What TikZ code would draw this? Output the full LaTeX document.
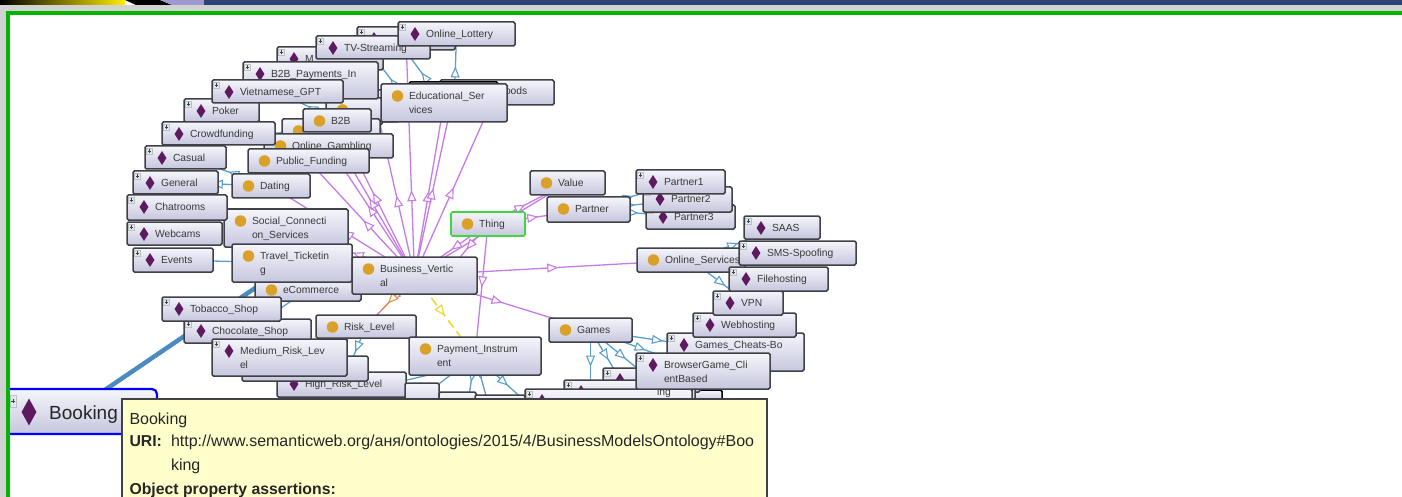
\documentclass[tikz,border=0pt]{standalone}
\usepackage{fontspec}
\setmainfont{Liberation Sans}
\usetikzlibrary{backgrounds,decorations.markings,arrows.meta,shapes.geometric}
\definecolor{edgepurple}{HTML}{C77BE6}
\definecolor{edgeblue}{HTML}{5B9FCE}
\definecolor{edgethick}{HTML}{4A8CBF}
\definecolor{edgeorange}{HTML}{E0963A}
\definecolor{edgeyellow}{HTML}{F0D428}
\definecolor{boxline}{HTML}{404048}
\definecolor{boxtop}{HTML}{F5F5FB}
\definecolor{boxbottom}{HTML}{C6C6DE}
\definecolor{clsdot}{HTML}{D9A128}
\definecolor{inddia}{HTML}{5E1A5E}
\definecolor{txt}{HTML}{3A3A3A}
\definecolor{tipfill}{HTML}{FFFFCC}
\definecolor{pagegreen}{HTML}{00B400}
\definecolor{navy}{HTML}{2D4373}
\definecolor{lav}{HTML}{9E9AD0}
\definecolor{plusfill}{HTML}{DCE8F4}
\tikzset{
  gbox/.style={draw=boxline,line width=1.5pt,rounded corners=1.5pt,top color=boxtop,bottom color=boxbottom,inner sep=0pt,outer sep=0pt},
  gtext/.style={inner sep=0pt,outer sep=0pt,anchor=north west,align=left,text=txt,font=\fontsize{10.3}{14}\selectfont},
  dot/.style={circle,fill=clsdot,minimum size=11.5pt,inner sep=0pt},
  dia/.style={diamond,fill=inddia,minimum width=9pt,minimum height=14pt,aspect=0.65,inner sep=0pt},
  tri/.style={postaction={decorate},decoration={markings,mark=at position #1 with {\arrow{Triangle[fill=white,length=11pt,width=9pt,line width=1.1pt]}}}},
  pe/.style={draw=edgepurple,line width=1.3pt},
  be/.style={draw=edgeblue,line width=1.3pt},
  oe/.style={draw=edgeorange,line width=1.3pt,dash pattern=on 8pt off 5pt},
  ye/.style={draw=edgeyellow,line width=1.5pt,dash pattern=on 9pt off 5pt},
  tiptext/.style={inner sep=0pt,outer sep=0pt,anchor=base west,text=black!85,font=\fontsize{16}{18}\selectfont},
  tipbold/.style={tiptext,font=\fontsize{15.8}{18}\selectfont\bfseries},
}
% [box style] name x0 y0 x1 y1 text
\newcommand\basebox[7][]{%
  \pgfmathsetmacro\bw{#5-#3}\pgfmathsetmacro\bh{#6-#4}%
  \pgfmathsetmacro\bx{(#3+#5)/2}\pgfmathsetmacro\by{(#4+#6)/2}%
  \node[gbox,minimum width=\bw pt,minimum height=\bh pt,#1] (#2) at (\bx,\by) {};%
  \node[gtext] (#2-t) at (#3+28,#4+8) {#7};%
}
\newcommand\cls[7][]{%
  \basebox[#1]{#2}{#3}{#4}{#5}{#6}{#7}%
  \node[dot] (#2-i) at (#3+16.5,#4+12) {};%
}
\newcommand\ind[7][]{%
  \basebox[#1]{#2}{#3}{#4}{#5}{#6}{#7}%
  \node[dia] (#2-i) at (#3+17,#4+12) {};%
  \fill[plusfill,draw=black!25,line width=.3pt] (#3+1.5,#4+2) rectangle (#3+7.5,#4+8);%
  \draw[black!75,line width=.5pt] (#3+2.8,#4+5) -- (#3+6.2,#4+5) (#3+4.5,#4+3.3) -- (#3+4.5,#4+6.7);%
}
\begin{document}
\begin{tikzpicture}[x=1pt,y=-1pt]
\useasboundingbox (0,0) rectangle (1402,497);
\clip (0,0) rectangle (1402,497);

% --- lower layer of boxes
\ind{topA}{357}{27}{455}{50}{}
\ind{mbox}{277}{47}{383}{70}{M}
\ind{tv}{316}{36}{430}{59}{TV-Streaming}
\node[gbox,minimum width=114pt,minimum height=25pt] (oods) at (497,92.5) {};
\node[gtext] (oods-t) at (505,87.5) {oods};
\node[gbox,draw=black,minimum width=89pt,minimum height=24pt] (blackbox) at (453.5,94) {};
\ind{lottery}{398}{22}{515}{46}{Online\_Lottery}
\cls{hA}{353}{90}{399}{122}{}
\cls{hB}{326}{98}{382}{125}{}
\ind{payin}{243}{62}{378}{99}{B2B\_Payments\_In}
\cls{edu}{381}{84}{507}{122}{Educational\_Ser\\vices}
\ind{poker}{184}{99}{259}{122}{Poker}
\ind{viet}{212}{80}{343}{103}{Vietnamese\_GPT}
\cls{hC}{282}{119}{380}{146}{}
\cls{b2b}{303}{109}{371}{132}{B2B}
\cls{gamb}{264}{134}{393}{158}{Online\_Gambling}
\ind{crowd}{162}{122}{275}{145}{Crowdfunding}
\cls{public}{248}{149}{369}{173}{Public\_Funding}
\ind{casual}{145}{146}{226}{169}{Casual}
\ind{general}{133}{171}{218}{194}{General}
\cls{dating}{232}{174}{310}{198}{Dating}
\cls{social}{224}{209}{348}{247}{Social\_Connecti\\on\_Services}
\ind{chat}{127}{195}{227}{220}{Chatrooms}
\ind{webcams}{127}{222}{222}{245}{Webcams}
\ind{events}{133}{248}{213}{272}{Events}
\cls{ecom}{255}{278}{361}{301}{eCommerce}
\cls{travel}{232}{244}{352}{282}{Travel\_Ticketin\\g}
\cls{bv}{352}{257}{477}{294}{Business\_Vertic\\al}
\cls[draw={rgb,255:red,64;green,214;blue,64},line width=1.6pt]{thing}{451}{212}{525}{236}{Thing}
\cls{value}{530}{171}{605}{195}{Value}
\cls{partner}{547}{197}{630}{222}{Partner}
\ind{pthree}{646}{205}{735}{229}{Partner3}
\ind{ptwo}{643}{187}{732}{212}{Partner2}
\ind{pone}{636}{170}{725}{194}{Partner1}
\ind{chocolate}{184}{319}{311}{343}{Chocolate\_Shop}
\ind{tobacco}{162}{297}{281}{321}{Tobacco\_Shop}
\ind{high}{277}{372}{406}{397}{High\_Risk\_Level}
\ind{midbox}{242}{356}{368}{381}{}
\ind{medium}{212}{339}{347}{376}{Medium\_Risk\_Lev\\el}
\cls{risk}{316}{315}{416}{338}{Risk\_Level}
\node[gbox,minimum width=34pt,minimum height=28pt] (pA) at (422,397) {};
\node[gbox,minimum width=37pt,minimum height=28pt] (pB) at (457.5,406) {};
\node[gbox,minimum width=50pt,minimum height=30pt] (pC) at (500,410) {};
\cls{payment}{409}{337}{541}{375}{Payment\_Instrum\\ent}
\cls{games}{549}{318}{632}{342}{Games}
\cls{online}{637}{248}{745}{272}{Online\_Services}
\ind{cheats}{667}{333}{804}{371}{Games\_Cheats-Bo}
\ind{webhost}{693}{313}{796}{337}{Webhosting}
\ind{vpn}{713}{291}{783}{315}{VPN}
\ind{filehost}{729}{267}{828}{291}{Filehosting}
\ind{saas}{744}{216}{820}{239}{SAAS}
\ind{sms}{739}{241}{856}{265}{SMS-Spoofing}
\node[gbox,draw=black,minimum width=34pt,minimum height=12pt] (bk) at (705,396) {};
\ind{gA}{603}{368}{700}{392}{}
\ind{gB}{564}{380}{695}{410}{}
\ind{gC}{525}{389}{692}{430}{}
\node[gtext] (gC-t) at (657,388) {ing};
\ind{browser}{636}{353}{770}{389}{BrowserGame\_Cli\\entBased}

% --- Booking and tooltip
\begin{scope}
\clip (10,380) rectangle (170,440);
\node[gbox,draw=blue,line width=2.2pt,rounded corners=5pt,minimum width=157pt,minimum height=45pt] (booking) at (78.5,411.5) {};
\end{scope}
\node[dia,minimum width=15pt,minimum height=27pt] (booking-i) at (29,412) {};
\node[inner sep=0pt,anchor=base west,text=black!85,font=\fontsize{19}{20}\selectfont] (booking-t) at (49,419) {Booking};
\fill[plusfill,draw=black!25,line width=.3pt] (10,395) rectangle (16,407);
\draw[black!75,line width=.5pt] (11,401) -- (15,401) (13,399) -- (13,403);

\node[draw=boxline,line width=2pt,fill=tipfill,minimum width=645pt,minimum height=130pt,inner sep=0pt,anchor=north west] (tip) at (121,398) {};
\node[tiptext] (tipA) at (129.5,424.5) {Booking};
\node[tipbold] (tipB) at (129.5,446.5) {URI:};
\node[tiptext] (tipC) at (171,446.5) {http://www.semanticweb.org/аня/ontologies/2015/4/BusinessModelsOntology\#Boo};
\node[tiptext] (tipD) at (171,470) {king};
\node[tipbold] (tipE) at (129.5,494) {Object property assertions:};

% --- page and connectors, behind the boxes
\begin{pgfonlayer}{background}
\fill[white] (0,0) rectangle (1402,497);
\fill[gray!35] (0,5) rectangle (1402,11);
\fill[gray!35] (0,5) rectangle (6,497);
\shade[left color=black,right color=yellow!85!orange] (0,0) rectangle (125,5);
\fill[black] (125,0) -- (160,0) -- (172,5) -- (136,5) -- cycle;
\fill[lav] (160,0) -- (204,0) -- (204,5) -- (172,5) -- cycle;
\fill[navy] (204,0) rectangle (1402,5);
\fill[pagegreen] (6,11) rectangle (1402,15.5);
\fill[pagegreen] (6,11) rectangle (10,497);

\draw[edgethick,line width=4.5pt] ([xshift=5pt,yshift=7pt]booking.center) -- (travel.center);
\draw[pe,tri=.5] (bv.center) -- (dating.center);
\draw[pe,tri=.48] (bv.center) -- (social.center);
\draw[pe,tri=.5] (bv.center) -- (travel.center);
\draw[pe,tri=.48] (bv.center) -- (public.center);
\draw[pe,tri=.54] (bv.center) -- (gamb.center);
\draw[pe,tri=.54] (bv.center) -- (hC.center);
\draw[pe,tri=.535] (bv.center) -- (b2b.center);
\draw[pe,tri=.47] (bv.center) -- (hA.center);
\draw[pe,tri=.36] (bv.center) -- (topA.center);
\draw[pe,tri=.49] (bv.center) -- (edu.center);
\draw[pe,tri=.48] (bv.center) -- (blackbox.center);
\draw[pe,tri=.48] (bv.center) -- ([xshift=-1pt]oods.center);
\draw[pe,tri=.5] (bv.center) -- (risk.center);
\draw[oe,tri=.55] (bv.center) -- (risk.center);
\draw[ye,tri=.5] (bv.center) -- (payment.center);
\draw[pe,tri=.52] (bv.center) -- (online.center);
\draw[pe,tri=.5] (bv.center) -- (games.center);
\draw[pe,tri=.7] (bv.center) -- (value.center);
\draw[pe,tri=.5] (thing.center) -- (bv.center);
\draw[pe,tri=.5] (thing.center) -- ([xshift=30pt]bv.center);
\draw[pe,tri=.48] (thing.center) -- (payment.center);
\draw[pe,tri=.47] (thing.center) -- (value.center);
\draw[pe,tri=.5] (thing.center) -- (partner.center);

\draw[be,tri=.49] (partner.center) -- (pone.center);
\draw[be,tri=.47] (partner.center) -- (ptwo.center);
\draw[be,tri=.49] (partner.center) -- (pthree.center);
\draw[be,tri=.52] (online.center) -- (saas.center);
\draw[be,tri=.5] (online.center) -- (sms.center);
\draw[be,tri=.45] (online.center) -- (filehost.center);
\draw[be,tri=.6] (online.center) -- (vpn.center);
\draw[be,tri=.5] (games.center) -- (cheats.center);
\draw[be,tri=.49] (games.center) -- (browser.center);
\draw[be,tri=.58] (games.center) -- (gA.center);
\draw[be,tri=.46] (games.center) -- (gB.center);
\draw[be,tri=.62] (games.center) -- (games.center |- gC.north);
\draw[be,tri=.5] (payment.center) -- (pA.center);
\draw[be] ([yshift=-8pt]payment.center) -- ([yshift=-11pt]high.center);
\draw[be,tri=.52] (payment.center) -- ([xshift=10pt]pB.center);
\draw[be,tri=.44] (payment.center) -- ([xshift=-10pt]pC.center);
\draw[be,tri=.55] (payment.center) -- ([xshift=35pt]pC.center);
\draw[be,tri=.44] (risk.center) -- (high.center);
\draw[be,tri=.5] (risk.center) -- (midbox.center);
\draw[be,tri=.62] (dating.center) -- (general.center);
\draw[be,tri=.5] (dating.center) -- (casual.center);
\draw[be,tri=.47] (hC.center) -- (crowd.center);
\draw[be,tri=.5] (b2b.center) -- (viet.center);
\draw[be,tri=.55] ([xshift=-35pt]edu.center) -- ([xshift=45pt]mbox.center);
\draw[be,tri=.55] (edu.center) -- ([xshift=30pt]tv.center);
\draw[be,tri=.46] ([xshift=1pt]blackbox.center) -- (lottery.center);
\draw[be] (travel.center) -- (events.center);
\draw[be] (ecom.center) -- (chocolate.center);
\end{pgfonlayer}
\end{tikzpicture}
\end{document}
